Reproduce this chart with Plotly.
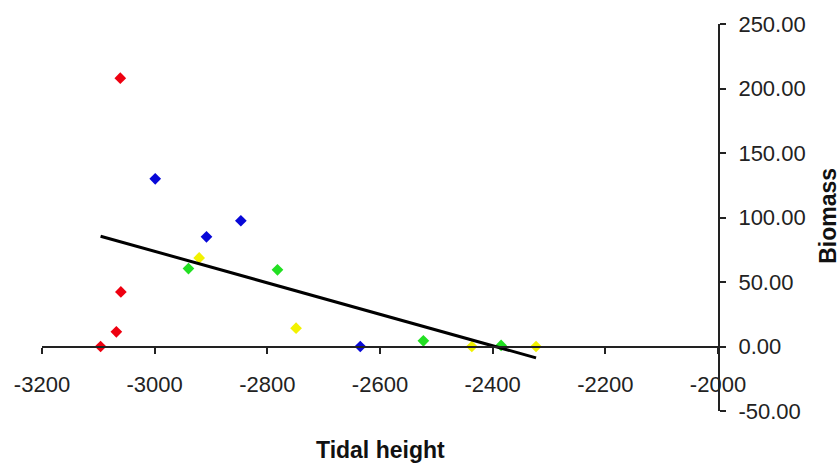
import numpy as np
import plotly.graph_objects as go

# Tidal height (x) and biomass (y) for each group of quadrats
red_x = [-3061, -3060, -3068, -3096]
red_y = [208.0, 42.3, 11.4, 0.0]

blue_x = [-2999, -2847, -2908, -2635]
blue_y = [130.0, 97.5, 85.0, 0.0]

yellow_x = [-2921, -2749, -2437, -2323]
yellow_y = [68.7, 14.2, 0.0, 0.0]

green_x = [-2940, -2782, -2523, -2385]
green_y = [60.4, 59.4, 4.4, 0.8]

x_ticks = [-3200, -3000, -2800, -2600, -2400, -2200, -2000]
y_ticks = [-50, 0, 50, 100, 150, 200, 250]

FONT = "Liberation Sans, Arial, sans-serif"

groups = [
    (red_x, red_y, "#EE0010"),
    (blue_x, blue_y, "#0808D8"),
    (yellow_x, yellow_y, "#F2F200"),
    (green_x, green_y, "#22E022"),
]

fig = go.Figure()

for gx, gy, col in groups:
    fig.add_trace(go.Scatter(
        x=gx, y=gy, mode="markers",
        marker=dict(symbol="diamond", size=9, color=col, line=dict(width=0)),
        showlegend=False, cliponaxis=False,
    ))

# Linear trend across all points
all_x = np.array(red_x + blue_x + yellow_x + green_x, dtype=float)
all_y = np.array(red_y + blue_y + yellow_y + green_y, dtype=float)
slope, intercept = np.polyfit(all_x, all_y, 1)
fit_x = np.array([all_x.min(), all_x.max()])
fig.add_trace(go.Scatter(
    x=fit_x, y=slope * fit_x + intercept, mode="lines",
    line=dict(color="black", width=3), showlegend=False, cliponaxis=False,
))

y_min, y_max = y_ticks[0], y_ticks[-1]

fig.update_layout(
    width=840, height=466,
    margin=dict(l=42, r=122, t=24, b=55),
    paper_bgcolor="white", plot_bgcolor="white",
    font=dict(family=FONT, size=22, color="#222"),
    xaxis=dict(
        range=[x_ticks[0], x_ticks[-1]],
        tickvals=x_ticks, ticktext=[str(v) for v in x_ticks],
        anchor="free", position=(0 - y_min) / (y_max - y_min),
        showline=True, linecolor="#222", linewidth=2,
        ticks="outside", ticklen=6, tickwidth=2, tickcolor="#222",
        showgrid=False, zeroline=False,
        ticklabelstandoff=12,
    ),
    yaxis=dict(
        range=[y_min, y_max],
        tickvals=y_ticks, ticktext=[f"{v:.2f}" for v in y_ticks],
        side="right", anchor="x",
        showline=True, linecolor="#222", linewidth=2,
        ticks="outside", ticklen=6, tickwidth=2, tickcolor="#222",
        showgrid=False, zeroline=False,
        ticklabelstandoff=8,
    ),
    annotations=[
        dict(text="<b>Tidal height</b>", xref="paper", yref="paper",
             x=0.5, y=-39 / 387, xanchor="center", yanchor="middle",
             showarrow=False, font=dict(family=FONT, size=23, color="#111")),
        dict(text="<b>Biomass</b>", xref="paper", yref="paper",
             x=1 + (828 - 717.7) / 675.7, y=0.5 + 2 / 387,
             xanchor="center", yanchor="middle", textangle=-90,
             showarrow=False, font=dict(family=FONT, size=23, color="#111")),
    ],
)

fig.write_html("out.html")
